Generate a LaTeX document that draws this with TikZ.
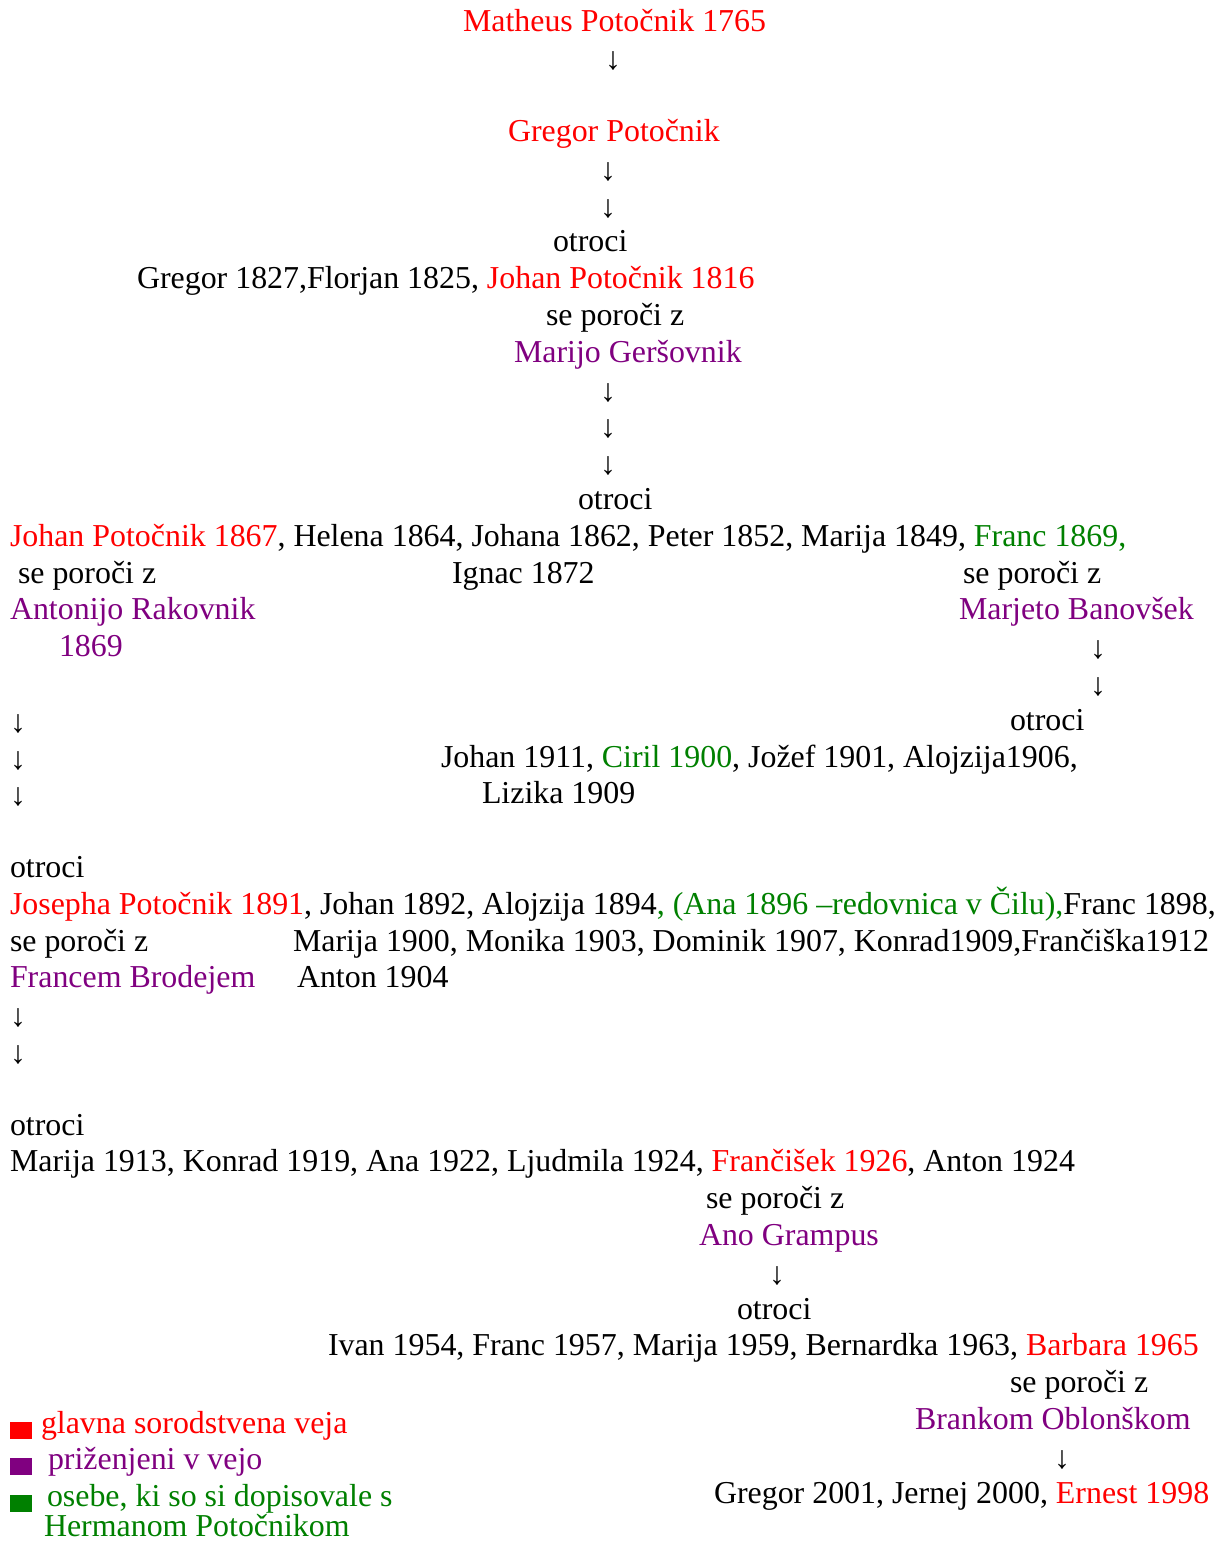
\documentclass[tikz,border=0pt]{standalone}
\usepackage{fontspec}
\setmainfont{Liberation Serif}
\definecolor{mred}{HTML}{FF0000}
\definecolor{mpur}{HTML}{800080}
\definecolor{mgrn}{HTML}{008000}
\newcommand{\R}[1]{\textcolor{mred}{#1}}
\newcommand{\Pu}[1]{\textcolor{mpur}{#1}}
\newcommand{\G}[1]{\textcolor{mgrn}{#1}}
\newcommand{\DA}{\raisebox{-2pt}{↓}}
\begin{document}
\begin{tikzpicture}[x=1pt,y=-1pt,
  txt/.style={anchor=base west,inner sep=0pt,outer sep=0pt,font=\fontsize{31.9pt}{36.8pt}\selectfont},
  arr/.style={anchor=base,inner sep=0pt,outer sep=0pt,font=\fontsize{31.9pt}{36.8pt}\selectfont},
  legbox/.style={draw=none,minimum width=22pt,minimum height=17pt,inner sep=0pt,anchor=north west}]
\useasboundingbox (0,0) rectangle (1228,1542);
% generation 1
\node[txt] (matheus) at (463,31) {\R{Matheus Potočnik 1765}};
\node[arr] (a1) at (613,67.8) {\DA};
\node[txt] (gregor) at (508,141.4) {\R{Gregor Potočnik}};
\node[arr] (a2) at (608,178.2) {\DA};
\node[arr] (a3) at (608,215) {\DA};
\node[txt] (otroci1) at (553,251.8) {otroci};
\node[txt] (kids1) at (137,288.6) {Gregor 1827,Florjan 1825, \R{Johan Potočnik 1816}};
\node[txt] (sep1) at (546,325.4) {se poroči z};
\node[txt] (marijo) at (514,362.2) {\Pu{Marijo Geršovnik}};
\node[arr] (a4) at (608,399) {\DA};
\node[arr] (a5) at (608,435.8) {\DA};
\node[arr] (a6) at (608,472.6) {\DA};
\node[txt] (otroci2) at (578,509.4) {otroci};
\node[txt] (kids2) at (10,546.2) {\R{Johan Potočnik 1867}, Helena 1864, Johana 1862, Peter 1852, Marija 1849, \G{Franc 1869,}};
\node[txt] (sep2) at (18,583) {se poroči z};
\node[txt] (ignac) at (452,583) {Ignac 1872};
\node[txt] (sep3) at (963,583) {se poroči z};
\node[txt] (antonijo) at (10,619.8) {\Pu{Antonijo Rakovnik}};
\node[txt] (marjeto) at (959,619.8) {\Pu{Marjeto Banovšek}};
\node[txt] (antyear) at (59,656.6) {\Pu{1869}};
\node[arr] (r1) at (1098,656.6) {\DA};
\node[arr] (r2) at (1098,693.4) {\DA};
\node[arr] (l1) at (18,730.2) {\DA};
\node[txt] (otroci3) at (1010,730.2) {otroci};
\node[arr] (l2) at (18,767) {\DA};
\node[txt] (kids3) at (441,767) {Johan 1911, \G{Ciril 1900}, Jožef 1901, Alojzija1906,};
\node[arr] (l3) at (18,803.8) {\DA};
\node[txt] (lizika) at (482,803.8) {Lizika 1909};
% generation 4
\node[txt] (otroci4) at (10,877.4) {otroci};
\node[txt] (kids4) at (10,914.2) {\R{Josepha Potočnik 1891}, Johan 1892, Alojzija 1894\G{, (Ana 1896 –redovnica v Čilu),}Franc 1898,};
\node[txt] (sep4) at (10,951) {se poroči z};
\node[txt] (kids4b) at (293,951) {Marija 1900, Monika 1903, Dominik 1907, Konrad1909,Frančiška1912};
\node[txt] (francem) at (10,987.8) {\Pu{Francem Brodejem}};
\node[txt] (anton) at (297,987.8) {Anton 1904};
\node[arr] (l4) at (18,1024.6) {\DA};
\node[arr] (l5) at (18,1061.4) {\DA};
% generation 5
\node[txt] (otroci5) at (10,1135) {otroci};
\node[txt] (kids5) at (10,1171.8) {Marija 1913, Konrad 1919, Ana 1922, Ljudmila 1924, \R{Frančišek 1926}, Anton 1924};
\node[txt] (sep5) at (706,1208.6) {se poroči z};
\node[txt] (ano) at (699,1245.4) {\Pu{Ano Grampus}};
\node[arr] (a7) at (777,1282.2) {\DA};
\node[txt] (otroci6) at (737,1319) {otroci};
\node[txt] (kids6) at (328,1355.8) {Ivan 1954, Franc 1957, Marija 1959, Bernardka 1963, \R{Barbara 1965}};
\node[txt] (sep6) at (1010,1392.6) {se poroči z};
\node[txt] (branko) at (915,1429.4) {\Pu{Brankom Oblonškom}};
\node[arr] (a8) at (1062,1466.2) {\DA};
\node[txt] (kids7) at (714,1503) {Gregor 2001, Jernej 2000, \R{Ernest 1998}};
% legend
\node[legbox,fill=mred] (bred) at (10,1422) {};
\node[txt] (lred) at (41,1433) {\R{glavna sorodstvena veja}};
\node[legbox,fill=mpur] (bpur) at (10,1458) {};
\node[txt] (lpur) at (48,1469) {\Pu{priženjeni v vejo}};
\node[legbox,fill=mgrn] (bgrn) at (10,1495) {};
\node[txt] (lgrn) at (47,1506) {\G{osebe, ki so si dopisovale s}};
\node[txt] (lgrn2) at (44,1536) {\G{Hermanom Potočnikom}};
\end{tikzpicture}
\end{document}
